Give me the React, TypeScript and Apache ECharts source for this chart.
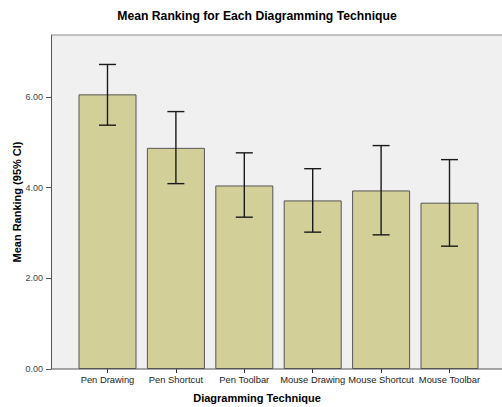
import React, { useEffect, useRef } from "react";
import * as echarts from "echarts";

const categories = ["Pen Drawing", "Pen Shortcut", "Pen Toolbar", "Mouse Drawing", "Mouse Shortcut", "Mouse Toolbar"];
const means = [6.06, 4.88, 4.05, 3.72, 3.94, 3.67];
const ciLower = [5.38, 4.09, 3.35, 3.02, 2.96, 2.71];
const ciUpper = [6.72, 5.68, 4.77, 4.42, 4.93, 4.62];
const yTickValues = [0, 2, 4, 6];
const yMax = 7.37;

const FONT = "Arial, 'Liberation Sans', Helvetica, sans-serif";

export default function App() {
  const ref = useRef<HTMLDivElement>(null);
  useEffect(() => {
    if (!ref.current) return;
    const chart = echarts.init(ref.current, null, { renderer: "svg" });
    const errData = categories.map((_, i) => [i, ciLower[i], ciUpper[i]]);
    chart.setOption({
      animation: false,
      backgroundColor: "#ffffff",
      textStyle: { fontFamily: FONT },
      graphic: [
        {
          type: "rect",
          z: -10,
          silent: true,
          shape: { x: 51, y: 35, width: 451, height: 334 },
          style: { fill: "#f0f0f0" },
        },
        {
          type: "line",
          z: 10,
          silent: true,
          shape: { x1: 51, y1: 35, x2: 502, y2: 35 },
          style: { stroke: "#888888", lineWidth: 1 },
        },
        {
          type: "line",
          z: 10,
          silent: true,
          shape: { x1: 51, y1: 369, x2: 502, y2: 369 },
          style: { stroke: "#555555", lineWidth: 1 },
        },
        {
          type: "text",
          x: 257,
          y: 15.5,
          style: {
            text: "Mean Ranking for Each Diagramming Technique",
            align: "center",
            verticalAlign: "middle",
            font: `bold 12.2px ${FONT}`,
            fill: "#000000",
          },
        },
        {
          type: "text",
          x: 257,
          y: 398,
          style: {
            text: "Diagramming Technique",
            align: "center",
            verticalAlign: "middle",
            font: `bold 11px ${FONT}`,
            fill: "#000000",
          },
        },
        {
          type: "text",
          x: 17,
          y: 202,
          rotation: Math.PI / 2,
          style: {
            text: "Mean Ranking (95% CI)",
            align: "center",
            verticalAlign: "middle",
            font: `bold 11px ${FONT}`,
            fill: "#000000",
          },
        },
      ],
      grid: { left: 73.3, right: 18.3, top: 35, bottom: 38, containLabel: false },
      xAxis: {
        type: "category",
        data: categories,
        axisLine: { show: false },
        axisTick: { show: true, alignWithLabel: true, length: 4, lineStyle: { color: "#333333" } },
        axisLabel: { color: "#222222", fontSize: 9.4, margin: 6, interval: 0 },
      },
      yAxis: {
        type: "value",
        min: 0,
        max: yMax,
        offset: 22.3,
        splitLine: { show: false },
        axisLine: { show: true, lineStyle: { color: "#555555" } },
        axisTick: { show: true, length: 5, customValues: yTickValues, lineStyle: { color: "#555555" } },
        axisLabel: {
          color: "#444444",
          fontSize: 9,
          margin: 8,
          customValues: yTickValues,
          formatter: (v: number) => v.toFixed(2),
        },
      },
      series: [
        {
          type: "bar",
          data: means,
          barWidth: 58,
          itemStyle: { color: "#d3cf98", borderColor: "#555555", borderWidth: 1 },
        },
        {
          type: "custom",
          z: 5,
          data: errData,
          encode: { x: 0, y: [1, 2] },
          renderItem: (params: any, api: any) => {
            const i = api.value(0);
            const lo = api.coord([i, api.value(1)]);
            const hi = api.coord([i, api.value(2)]);
            const half = 8.5;
            const style = { stroke: "#1a1a1a", lineWidth: 1.4, fill: "none" };
            return {
              type: "group",
              children: [
                { type: "line", shape: { x1: hi[0], y1: hi[1], x2: lo[0], y2: lo[1] }, style },
                { type: "line", shape: { x1: hi[0] - half, y1: hi[1], x2: hi[0] + half, y2: hi[1] }, style },
                { type: "line", shape: { x1: lo[0] - half, y1: lo[1], x2: lo[0] + half, y2: lo[1] }, style },
              ],
            };
          },
        },
      ],
    });
    return () => chart.dispose();
  }, []);
  return <div ref={ref} style={{ position: "absolute", left: 0, top: 0, width: 502, height: 407 }} />;
}
